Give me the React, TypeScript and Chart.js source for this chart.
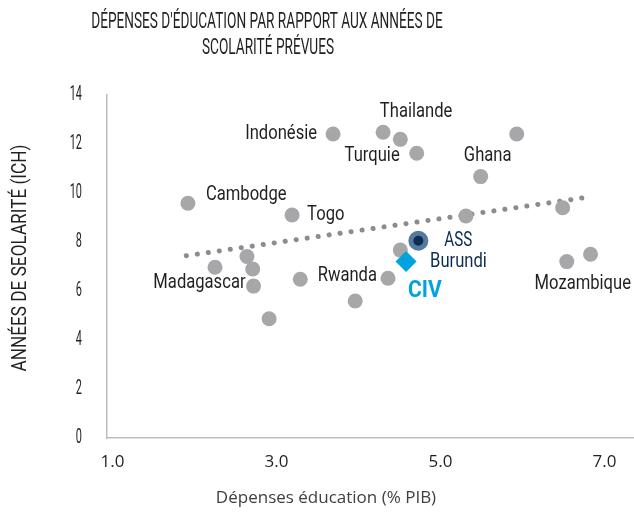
import React, { useEffect, useRef } from "react";
import { Chart, registerables } from "chart.js";

Chart.register(...registerables);

// ---- data ----
const countryX = [1.92, 2.25, 2.64, 2.71, 2.72, 2.91, 3.19, 3.29, 3.69, 3.96, 4.3, 4.36, 4.51, 4.51, 4.71, 5.31, 5.49, 5.93, 6.49, 6.54, 6.83];
const countryY = [9.58, 6.97, 7.41, 6.9, 6.2, 4.87, 9.1, 6.48, 12.41, 5.59, 12.48, 6.52, 12.19, 7.67, 11.62, 9.06, 10.67, 12.41, 9.4, 7.2, 7.5];
const countryNames = ["Cambodge", "", "", "", "Madagascar", "", "Togo", "", "Indonésie", "", "Thailande", "Rwanda", "", "", "Turquie", "", "Ghana", "", "", "Mozambique", ""];
const assX = [4.73];
const assY = [8.05];
const civX = [4.58];
const civY = [7.2];
const trendX = [1.9, 6.84];
const trendY = [7.44, 9.85];
const xTicks = [1, 3, 5, 7];
const titleLines = ["DÉPENSES D'ÉDUCATION PAR RAPPORT AUX ANNÉES DE", "SCOLARITÉ PRÉVUES"];
const yTitle = "ANNÉES DE SEOLARITÉ (ICH)";
const xTitle = "Dépenses éducation (% PIB)";

const COND = "Roboto, 'Noto Sans', sans-serif";
const DARK = "#231f20";
const NAVY = "#0c2d52";
const CYAN = "#00a3e0";

// label placement (offsets in px from the point)
const labelStyle: Record<string, { dx: number; dy: number; align: CanvasTextAlign }> = {
  Cambodge: { dx: 18, dy: -8, align: "left" },
  Madagascar: { dx: -8, dy: -3, align: "right" },
  Togo: { dx: 15, dy: 0, align: "left" },
  Rwanda: { dx: -11, dy: -2, align: "right" },
  "Indonésie": { dx: -16, dy: 0, align: "right" },
  Thailande: { dx: 33, dy: -20, align: "center" },
  Turquie: { dx: -17, dy: 3, align: "right" },
  Ghana: { dx: 7, dy: -21, align: "center" },
  Mozambique: { dx: 16, dy: 22, align: "center" },
};

function drawText(
  ctx: CanvasRenderingContext2D,
  text: string,
  x: number,
  y: number,
  font: string,
  sx: number,
  align: CanvasTextAlign,
  color: string
) {
  ctx.save();
  ctx.translate(x, y);
  ctx.scale(sx, 1);
  ctx.font = font;
  ctx.fillStyle = color;
  ctx.textAlign = align;
  ctx.textBaseline = "middle";
  ctx.fillText(text, 0, 0);
  ctx.restore();
}

const labelPlugin = {
  id: "labels",
  afterDatasetsDraw(chart: any) {
    const { ctx, scales } = chart;
    const xs = scales.x;
    const ys = scales.y;
    countryNames.forEach((name, i) => {
      if (!name) return;
      const st = labelStyle[name];
      const px = xs.getPixelForValue(countryX[i]);
      const py = ys.getPixelForValue(countryY[i]);
      drawText(ctx, name, px + st.dx, py + st.dy, `20px ${COND}`, 0.83, st.align, DARK);
    });
    const ax = xs.getPixelForValue(assX[0]);
    const ay = ys.getPixelForValue(assY[0]);
    const cx = xs.getPixelForValue(civX[0]);
    const cy = ys.getPixelForValue(civY[0]);
    drawText(ctx, "ASS", ax + 26, ay, `20px ${COND}`, 0.76, "left", NAVY);
    drawText(ctx, "Burundi", cx + 24, cy, `20px ${COND}`, 0.83, "left", NAVY);
    drawText(ctx, "CIV", cx + 2, cy + 29, `bold 24px ${COND}`, 0.88, "left", CYAN);
  },
  afterDraw(chart: any) {
    const { ctx, scales } = chart;
    const xs = scales.x;
    const ys = scales.y;
    // tick labels from the library's scales
    ys.ticks.forEach((t: any) => {
      drawText(ctx, String(t.value), 82, ys.getPixelForValue(t.value), `21px ${COND}`, 0.52, "right", DARK);
    });
    xs.ticks.forEach((t: any) => {
      drawText(ctx, Number(t.value).toFixed(1), xs.getPixelForValue(t.value), 462, `17px 'Open Sans', sans-serif`, 1, "center", DARK);
    });
    // titles
    drawText(ctx, titleLines[0], 267, 22, `22px ${COND}`, 0.62, "center", DARK);
    drawText(ctx, titleLines[1], 268, 48, `22px ${COND}`, 0.62, "center", DARK);
    ctx.save();
    ctx.translate(21, 258);
    ctx.rotate(-Math.PI / 2);
    drawText(ctx, yTitle, 0, 0, `20px ${COND}`, 0.86, "center", DARK);
    ctx.restore();
    drawText(ctx, xTitle, 326, 498, `17px 'Open Sans', sans-serif`, 1, "center", "#404040");
  },
};

export default function App() {
  const ref = useRef<HTMLCanvasElement | null>(null);
  useEffect(() => {
    if (!ref.current) return;
    const chart = new Chart(ref.current, {
      type: "scatter",
      data: {
        datasets: [
          {
            label: "CIV",
            data: civX.map((x, i) => ({ x, y: civY[i] })),
            pointStyle: "rectRot",
            pointRadius: 10.5,
            backgroundColor: CYAN,
            borderWidth: 0,
          },
          {
            label: "ASS",
            data: assX.map((x, i) => ({ x, y: assY[i] })),
            pointRadius: 7.5,
            backgroundColor: NAVY,
            borderColor: "#56799e",
            borderWidth: 5,
          },
          {
            label: "Pays",
            data: countryX.map((x, i) => ({ x, y: countryY[i] })),
            pointRadius: 7.5,
            backgroundColor: "#a7a7aa",
            borderWidth: 0,
          },
          {
            type: "line",
            label: "Tendance",
            data: trendX.map((x, i) => ({ x, y: trendY[i] })),
            pointRadius: 0,
            borderColor: "#8c8c90",
            borderWidth: 5,
            borderDash: [0.1, 11],
            borderCapStyle: "round",
            fill: false,
            showLine: true,
          } as any,
        ],
      },
      options: {
        animation: false,
        responsive: false,
        events: [],
        layout: { autoPadding: false, padding: { top: 95, left: 0, right: 0, bottom: 0 } },
        plugins: { legend: { display: false }, tooltip: { enabled: false } },
        scales: {
          x: {
            type: "linear",
            min: 0.933,
            max: 7.36,
            afterBuildTicks: (s: any) => {
              s.ticks = xTicks.map((v) => ({ value: v }));
            },
            afterFit: (s: any) => {
              s.height = 75;
            },
            grid: { display: false, drawTicks: false },
            border: { display: true, color: "#bdbdbd", width: 1.5 },
            ticks: { display: false },
          },
          y: {
            type: "linear",
            min: 0,
            max: 14,
            afterFit: (s: any) => {
              s.width = 107;
            },
            grid: { display: false, drawTicks: false },
            border: { display: true, color: "#bdbdbd", width: 1.5 },
            ticks: { display: false, stepSize: 2 },
          },
        },
      },
      plugins: [labelPlugin],
    });
    return () => chart.destroy();
  }, []);
  return (
    <div style={{ position: "absolute", left: 0, top: 0, width: 634, height: 513, background: "#fff" }}>
      <canvas ref={ref} width={634} height={513} style={{ width: 634, height: 513 }} />
    </div>
  );
}
